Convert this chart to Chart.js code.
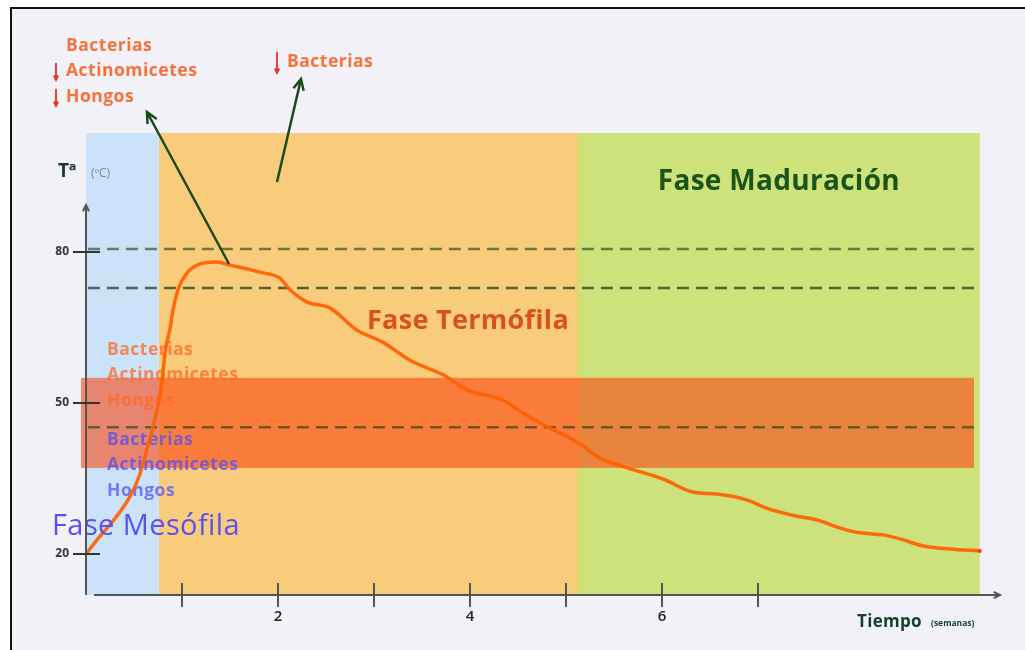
<!DOCTYPE html>
<html>
<head>
<meta charset="utf-8">
<script src="https://cdn.jsdelivr.net/npm/chart.js@4.4.1/dist/chart.umd.min.js"></script>
<style>
  html, body { margin: 0; padding: 0; background: #fff; }
  canvas { display: block; }
</style>
</head>
<body>
<canvas id="compost" width="1025" height="650"></canvas>
<script>
// curva de temperatura del compost (semanas -> ºC)
const weeks = [0, 0.14, 0.28, 0.46, 0.56, 0.615, 0.72, 0.79, 0.823, 0.875, 0.91, 0.96, 1.05, 1.16, 1.36, 1.5, 1.81, 2.02, 2.125, 2.3, 2.54, 2.82, 3.09, 3.375, 3.72, 3.97, 4.34, 4.55, 4.83, 5.11, 5.35, 5.64, 6.01, 6.32, 6.57, 6.89, 7.09, 7.36, 7.61, 7.85, 8.06, 8.3, 8.48, 8.72, 9.0, 9.31];
const temps = [20, 23.4, 26.5, 31.5, 35.8, 39.5, 47.0, 54.0, 59.9, 64.8, 68.8, 72.6, 75.8, 77.4, 78.0, 77.4, 76.0, 74.8, 72.5, 70.1, 68.9, 64.5, 62.1, 58.5, 55.6, 52.6, 50.6, 48.0, 45.0, 42.3, 39.1, 37.1, 34.9, 32.3, 31.9, 30.7, 29.1, 27.7, 26.8, 25.2, 24.2, 23.8, 23.0, 21.6, 21.0, 20.6];

// fases
const phaseNames = ['Fase Mesófila', 'Fase Termófila', 'Fase Maduración'];
const phaseStart = [0, 0.76, 5.125];
const phaseEnd = [0.76, 5.125, 9.31];

// líneas de referencia y banda
const refTemps = [80.6, 72.85, 45.2];
const bandRange = [37.1, 55.0];

// ejes
const xTicks = [1, 2, 3, 4, 5, 6, 7];
const xTickLabels = ['', '2', '', '4', '', '6', ''];
const yTicks = [20, 50, 80];
const yTickLabels = ['20', '50', '80'];

const microbes = ['Bacterias', 'Actinomicetes', 'Hongos'];

const FONT = '"Open Sans", Lato, sans-serif';
const phaseFill = ['#cbe3f9', '#f9cc7c', '#cde27a'];

function arrow(ctx, x1, y1, x2, y2, color, w, head) {
  const a = Math.atan2(y2 - y1, x2 - x1);
  ctx.strokeStyle = color;
  ctx.lineWidth = w;
  ctx.beginPath();
  ctx.moveTo(x1, y1);
  ctx.lineTo(x2, y2);
  ctx.moveTo(x2 - head * Math.cos(a - 0.45), y2 - head * Math.sin(a - 0.45));
  ctx.lineTo(x2, y2);
  ctx.lineTo(x2 - head * Math.cos(a + 0.45), y2 - head * Math.sin(a + 0.45));
  ctx.stroke();
}

function text(ctx, s, x, y, font, color, align, spacing) {
  ctx.font = font;
  ctx.fillStyle = color;
  ctx.textAlign = align || 'left';
  ctx.textBaseline = 'middle';
  ctx.letterSpacing = spacing || '0px';
  ctx.fillText(s, x, y);
  ctx.letterSpacing = '0px';
}

const LIST_FONT = 'bold 17.5px ' + FONT;
const LIST_SP = '0.5px';

const decor = {
  id: 'decor',
  beforeDraw(chart) {
    const { ctx, width, height } = chart;
    const { x, y } = chart.scales;
    ctx.save();
    ctx.fillStyle = '#fff';
    ctx.fillRect(0, 0, width, height);
    ctx.fillStyle = '#f2f1f7';
    ctx.fillRect(11, 8, width, height);
    ctx.strokeStyle = '#111';
    ctx.lineWidth = 2;
    ctx.beginPath();
    ctx.moveTo(11, height);
    ctx.lineTo(11, 8);
    ctx.lineTo(width, 8);
    ctx.stroke();

    phaseStart.forEach((s, i) => {
      const l = x.getPixelForValue(s), r = x.getPixelForValue(phaseEnd[i]);
      ctx.fillStyle = phaseFill[i];
      ctx.fillRect(l, y.top, r - l, y.bottom - y.top);
    });
    // borde entre termófila y maduración
    ctx.strokeStyle = '#e3d65a';
    ctx.lineWidth = 1.5;
    ctx.beginPath();
    ctx.moveTo(x.getPixelForValue(phaseStart[2]), y.top);
    ctx.lineTo(x.getPixelForValue(phaseStart[2]), y.bottom);
    ctx.stroke();

    // banda
    const bt = y.getPixelForValue(bandRange[1]), bb = y.getPixelForValue(bandRange[0]);
    ctx.fillStyle = 'rgba(250,70,16,0.6)';
    ctx.fillRect(81, bt, 974 - 81, bb - bt);

    // listas de microorganismos
    ctx.globalAlpha = 0.78;
    microbes.forEach((m, i) => text(ctx, m, 107, 350 + i * 25.5, LIST_FONT, '#ff6a2a', 'left', LIST_SP));
    microbes.forEach((m, i) => text(ctx, m, 107, 440 + i * 25.5, LIST_FONT, ['#5a50f5', '#5a50f5', '#5a5af5'][i], 'left', LIST_SP));
    ctx.globalAlpha = 1;

    // líneas discontinuas
    ctx.setLineDash([12, 7]);
    ctx.lineWidth = 2.5;
    refTemps.forEach((t, i) => {
      const py = y.getPixelForValue(t);
      ctx.strokeStyle = i === 1 ? 'rgba(20,60,20,0.72)' : 'rgba(20,60,20,0.6)';
      ctx.beginPath();
      ctx.moveTo(x.getPixelForValue(0.02), py);
      ctx.lineTo(x.getPixelForValue(9.26), py);
      ctx.stroke();
    });
    ctx.setLineDash([]);
    ctx.restore();
  },
  afterDatasetsDraw(chart) {
    const { ctx } = chart;
    const { x, y } = chart.scales;
    ctx.save();
    // títulos de fases
    text(ctx, phaseNames[2], x.getPixelForValue((phaseStart[2] + phaseEnd[2]) / 2), 182, 'bold 28px ' + FONT, '#1b541b', 'center', '0.3px');
    text(ctx, phaseNames[1], 468, 321, 'bold 27px ' + FONT, '#d8521c', 'center', '0.3px');
    text(ctx, phaseNames[0], 52, 527, '500 29px ' + FONT, '#5b50f0', 'left', '0.4px');

    // ejes
    const x0 = x.getPixelForValue(0);
    const yb = y.bottom;
    arrow(ctx, x0, yb, x0, 205, '#555', 2, 7);
    arrow(ctx, x0 + 8, yb, 1000, yb, '#555', 2, 7);
    ctx.strokeStyle = '#555';
    ctx.lineWidth = 2;
    xTicks.forEach((v, i) => {
      const px = x.getPixelForValue(v);
      ctx.beginPath();
      ctx.moveTo(px, yb - 12);
      ctx.lineTo(px, yb + 12);
      ctx.stroke();
      if (xTickLabels[i]) text(ctx, xTickLabels[i], px, 617, '600 15px ' + FONT, '#222', 'center');
    });
    yTicks.forEach((v, i) => {
      const py = y.getPixelForValue(v);
      ctx.strokeStyle = '#333';
      ctx.beginPath();
      ctx.moveTo(73, py);
      ctx.lineTo(100, py);
      ctx.stroke();
      text(ctx, yTickLabels[i], 69, py, 'bold 12px ' + FONT, '#333', 'right');
    });
    text(ctx, 'Tª', 58, 172, 'bold 19px ' + FONT, '#1d3b2c');
    text(ctx, '(ºC)', 91, 174, '12px ' + FONT, '#7b8a98');
    text(ctx, 'Tiempo', 857, 622, 'bold 17px ' + FONT, '#15402a', 'left', '0.3px');
    text(ctx, '(semanas)', 931, 624, 'bold 8.5px ' + FONT, '#15402a');

    // flechas verdes
    arrow(ctx, 229, 264, 147, 112, '#1a4a1a', 2.5, 12);
    arrow(ctx, 277, 182, 301, 79, '#1a4a1a', 2.5, 12);

    // anotaciones superiores
    microbes.forEach((m, i) => text(ctx, m, 66, 46 + i * 25.5, LIST_FONT, '#f5733a', 'left', LIST_SP));
    text(ctx, microbes[0], 287, 62, LIST_FONT, '#f5733a', 'left', LIST_SP);
    [[56, 63, 80], [56, 89, 106], [277, 52, 73]].forEach(([ax, a1, a2]) => arrow(ctx, ax, a1, ax, a2, '#e8302a', 1.8, 5));

    // punto final de la curva
    ctx.fillStyle = '#ff3a1a';
    ctx.beginPath();
    ctx.arc(x.getPixelForValue(weeks[weeks.length - 1]), y.getPixelForValue(temps[temps.length - 1]), 2, 0, Math.PI * 2);
    ctx.fill();
    ctx.restore();
  }
};

new Chart(document.getElementById('compost').getContext('2d'), {
  type: 'line',
  data: {
    datasets: [{
      label: 'Temperatura',
      data: weeks.map((w, i) => ({ x: w, y: temps[i] })),
      borderColor: 'rgba(255,96,0,0.92)',
      borderWidth: 3.5,
      pointRadius: 0,
      cubicInterpolationMode: 'monotone',
      fill: false
    }]
  },
  options: {
    responsive: false,
    animation: false,
    devicePixelRatio: 1,
    layout: { padding: { left: 86, right: 27, top: 133, bottom: 55 } },
    plugins: { legend: { display: false }, tooltip: { enabled: false }, title: { display: false } },
    scales: {
      x: { type: 'linear', min: 0, max: 9.5, display: false },
      y: { type: 'linear', min: 11.85, max: 103.65, display: false }
    }
  },
  plugins: [decor]
});
</script>
</body>
</html>
